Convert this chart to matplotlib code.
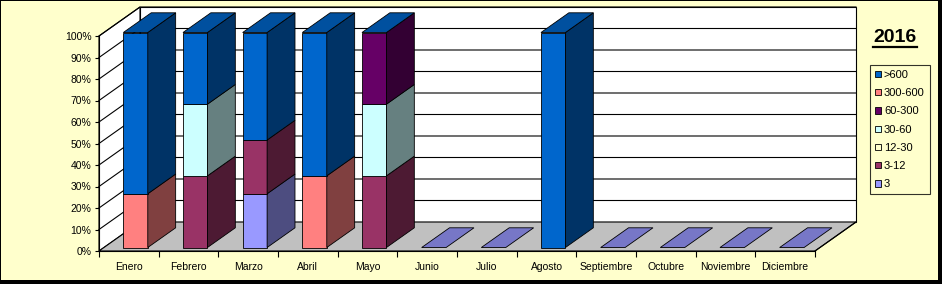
import numpy as np
import matplotlib
matplotlib.use("Agg")
import matplotlib.pyplot as plt
from matplotlib.patches import Polygon, Rectangle, Patch
from matplotlib.lines import Line2D
from matplotlib.colors import to_rgb

plt.rcParams['font.family'] = ['Liberation Sans', 'DejaVu Sans']

# ---------------- data ----------------
months = ["Enero", "Febrero", "Marzo", "Abril", "Mayo", "Junio", "Julio",
          "Agosto", "Septiembre", "Octubre", "Noviembre", "Diciembre"]
# series listed bottom -> top of each stack
series_names = ["3", "3-12", "12-30", "30-60", "60-300", "300-600", ">600"]
s_3       = [0, 0, 1, 0, 0, 0, 0, 0, 0, 0, 0, 0]
s_3_12    = [0, 1, 1, 0, 1, 0, 0, 0, 0, 0, 0, 0]
s_12_30   = [0, 0, 0, 0, 0, 0, 0, 0, 0, 0, 0, 0]
s_30_60   = [0, 1, 0, 0, 1, 0, 0, 0, 0, 0, 0, 0]
s_60_300  = [0, 0, 0, 0, 1, 0, 0, 0, 0, 0, 0, 0]
s_300_600 = [1, 0, 0, 1, 0, 0, 0, 0, 0, 0, 0, 0]
s_600     = [3, 1, 2, 2, 0, 0, 0, 1, 0, 0, 0, 0]
series_values = [s_3, s_3_12, s_12_30, s_30_60, s_60_300, s_300_600, s_600]
series_colors = ["#9999FF", "#993366", "#FFFFCC", "#CCFFFF", "#660066", "#FF8080", "#0066CC"]
yticks = list(range(0, 101, 10))
title = "2016"

# ---------------- layout / style ----------------
W, H = 942, 284
fig = plt.figure(figsize=(W / 100, H / 100), dpi=100, facecolor="black")
fig.patches.append(Rectangle((1 / W, 4 / H), 937 / W, 279 / H, transform=fig.transFigure,
                             facecolor="#FFFFCC", edgecolor="none", zorder=-10))

x_left, x_right, y_top, y_bot = 99, 815, 36, 251
ax = fig.add_axes([x_left / W, (H - y_bot) / H, (x_right - x_left) / W, (y_bot - y_top) / H])
ax.set_zorder(1)
ncat = len(months)
ax.set_xlim(0, ncat)
ax.set_ylim(0, 100)
ax.patch.set_visible(False)
for s in ("top", "right"):
    ax.spines[s].set_visible(False)
for s in ("left", "bottom"):
    ax.spines[s].set_linewidth(0.8)
    ax.spines[s].set_zorder(5)

# oblique depth vector (pixels) converted to data units
slot_px = (x_right - x_left) / ncat
pct_px = (y_bot - y_top) / 100
DX = 41 / slot_px
DY = 29 / pct_px


def P(x, y, z):
    return (x + DX * z, y + DY * z)


def poly(pts, fc, ec="black", lw=0.6, z=1):
    ax.add_patch(Polygon(pts, closed=True, facecolor=fc, edgecolor=ec, linewidth=lw,
                         clip_on=False, zorder=z, joinstyle="miter"))


def shade(c, f):
    r, g, b = to_rgb(c)
    return (r * f, g * f, b * f)


# walls and floor
poly([P(0, 0, 1), P(ncat, 0, 1), P(ncat, 100, 1), P(0, 100, 1)], "white", lw=0.8, z=0.5)
poly([P(0, 0, 0), P(0, 0, 1), P(0, 100, 1), P(0, 100, 0)], "white", lw=0.8, z=0.5)
poly([P(0, 0, 0), P(ncat, 0, 0), P(ncat, 0, 1), P(0, 0, 1)], "#C0C0C0", lw=0.8, z=0.6)
for v in yticks[1:]:
    a, b, c = P(0, v, 0), P(0, v, 1), P(ncat, v, 1)
    ax.add_line(Line2D([a[0], b[0], c[0]], [a[1], b[1], c[1]], color="black", lw=0.8,
                       clip_on=False, zorder=0.7))

# bars (100% stacked, 3-D look)
vals = np.array(series_values, dtype=float)
totals = vals.sum(axis=0)
pct = np.divide(vals, totals, out=np.zeros_like(vals), where=totals > 0) * 100
bar_off, bar_w = 0.325, 0.41
z0, z1 = 0.12, 0.80
for i in range(ncat):
    x0, x1 = i + bar_off, i + bar_off + bar_w
    bottom = 0.0
    for k, name in enumerate(series_names):
        h = pct[k, i]
        if h <= 0:
            continue
        top = bottom + h
        col = series_colors[k]
        poly([P(x0, bottom, z0), P(x1, bottom, z0), P(x1, top, z0), P(x0, top, z0)], col, z=3 + i)
        poly([P(x1, bottom, z0), P(x1, bottom, z1), P(x1, top, z1), P(x1, top, z0)],
             shade(col, 0.5), z=3 + i)
        bottom = top
    # top face: Excel paints the last series' cap on filled stacks, first series' on empty ones
    cap_col = series_colors[-1] if totals[i] > 0 else series_colors[0]
    level = 100 if totals[i] > 0 else 0
    poly([P(x0, level, z0), P(x1, level, z0), P(x1, level, z1), P(x0, level, z1)],
         shade(cap_col, 0.78), z=3 + i)

# axes ticks
ax.set_yticks(yticks)
ax.set_yticklabels([f"{v}%" for v in yticks])
ax.tick_params(axis="y", length=3, width=0.8, pad=2.5, labelsize=7.5)
ax.set_xticks(np.arange(ncat) + 0.5)
ax.set_xticklabels(months)
ax.set_xticks(np.arange(ncat + 1), minor=True)
ax.tick_params(axis="x", which="major", length=0, pad=8, labelsize=7.5)
ax.tick_params(axis="x", which="minor", length=4, width=0.8)

# right-side edge of the floor
a, b = P(ncat, 0, 0), P(ncat, 0, 1)
ax.add_line(Line2D([a[0], b[0]], [a[1], b[1]], color="black", lw=0.8, clip_on=False, zorder=5))

# legend (top series first)
handles = [Patch(facecolor=series_colors[k], edgecolor="black", linewidth=0.6,
                 label=series_names[k]) for k in range(len(series_names) - 1, -1, -1)]
leg = fig.legend(handles=handles, loc="upper left", bbox_to_anchor=(870 / W, 1 - 65 / H),
                 frameon=True, fancybox=False, edgecolor="black", facecolor="#FFFFCC",
                 fontsize=8, handlelength=0.5, handleheight=0.5, handletextpad=0.3,
                 labelspacing=0.74, borderpad=0.45, borderaxespad=0)
leg.get_frame().set_linewidth(0.8)

# title with underline
fig.text(895 / W, 1 - 38 / H, title, ha="center", va="center", fontsize=14, fontweight="bold")
fig.add_artist(Line2D([873 / W, 917 / W], [1 - 47.5 / H, 1 - 47.5 / H], transform=fig.transFigure,
                      color="black", lw=1.6))

fig.savefig("out.png", dpi=100, facecolor=fig.get_facecolor())
